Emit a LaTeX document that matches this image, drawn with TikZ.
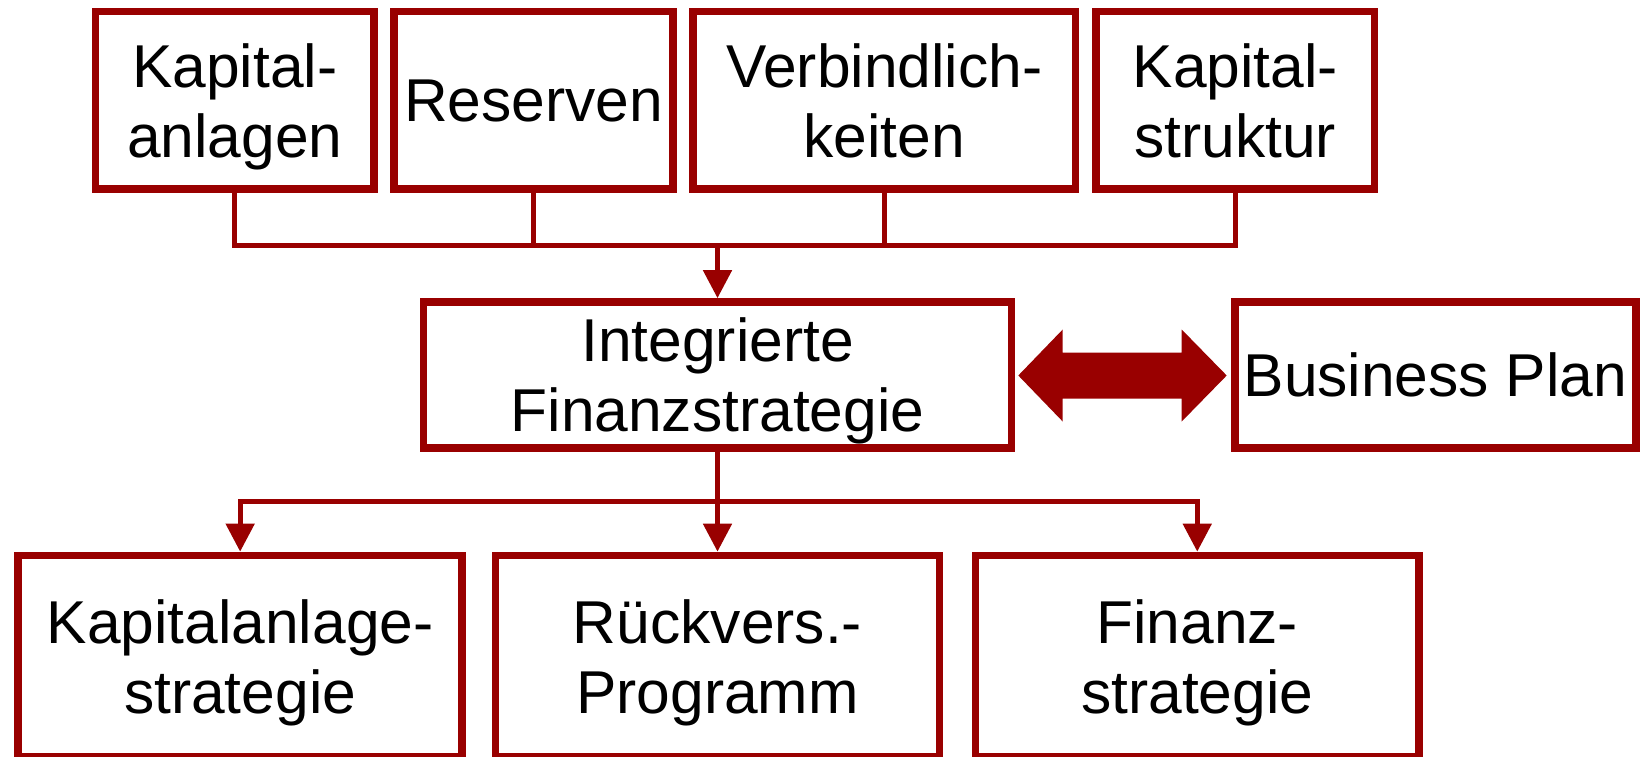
\documentclass[tikz,border=0pt]{standalone}
\usepackage{fontspec}
\setmainfont{Liberation Sans}
\usetikzlibrary{arrows.meta}
\definecolor{dred}{RGB}{153,0,0}
\begin{document}
\begin{tikzpicture}[x=1pt,y=-1pt,
  box/.style={draw=dred, line width=7.7pt, rectangle, inner sep=0pt, align=center,
    font=\fontsize{60.5}{70}\selectfont, text depth=0pt},
  conn/.style={draw=dred, line width=5pt, line join=miter},
  tip/.style={-{Triangle[length=28pt,width=28pt]}},
  toprow/.style={box, minimum height=177.5pt},
  midrow/.style={box, minimum height=146pt},
  botrow/.style={box, minimum height=201.5pt}
]
\useasboundingbox (0,0) rectangle (1642,756);

% top row
\node[toprow, minimum width=278.5pt] (k1)   at (234.75,100.25) {Kapital-\\anlagen};
\node[toprow, minimum width=279pt]   (res)  at (533.5,100.25)  {Reserven};
\node[toprow, minimum width=382.5pt] (verb) at (884.25,100.25) {Verbindlich-\\keiten};
\node[toprow, minimum width=278.5pt] (k2)   at (1235.25,100.25) {Kapital-\\struktur};

% middle row
\node[midrow, minimum width=588pt]   (integ) at (717.5,375)   {Integrierte\\Finanzstrategie};
\node[midrow, minimum width=401.3pt] (bp)    at (1435.35,375) {Business Plan};

% bottom row
\node[botrow, minimum width=443.7pt] (ka)  at (240.15,656.25)  {Kapitalanlage-\\strategie};
\node[botrow, minimum width=444pt]   (rv)  at (717.5,656.25)   {Rückvers.-\\Programm};
\node[botrow, minimum width=443.5pt] (fs)  at (1197.25,656.25) {Finanz-\\strategie};

% top bus
\coordinate (tbus) at (0,245);
\draw[conn] (k1.south) -- (k1.south |- tbus) -- (k2.south |- tbus) -- (k2.south);
\draw[conn] (res.south) -- (res.south |- tbus);
\draw[conn] (verb.south) -- (verb.south |- tbus);
\draw[conn, tip] (integ.north |- tbus) -- (integ.north);

% bottom bus
\coordinate (bbus) at (0,501);
\draw[conn, tip] (integ.south) -- (rv.north);
\draw[conn, tip] (integ.south |- bbus) -| (ka.north);
\draw[conn, tip] (integ.south |- bbus) -| (fs.north);

% double arrow between integ and business plan
\fill[dred] (1018.3,375.5) -- (1062.7,329.5) -- (1062.7,352.5) -- (1181.7,352.5)
  -- (1181.7,329.5) -- (1226.7,375.5) -- (1181.7,421.5) -- (1181.7,398.5)
  -- (1062.7,398.5) -- (1062.7,421.5) -- cycle;
\end{tikzpicture}
\end{document}
